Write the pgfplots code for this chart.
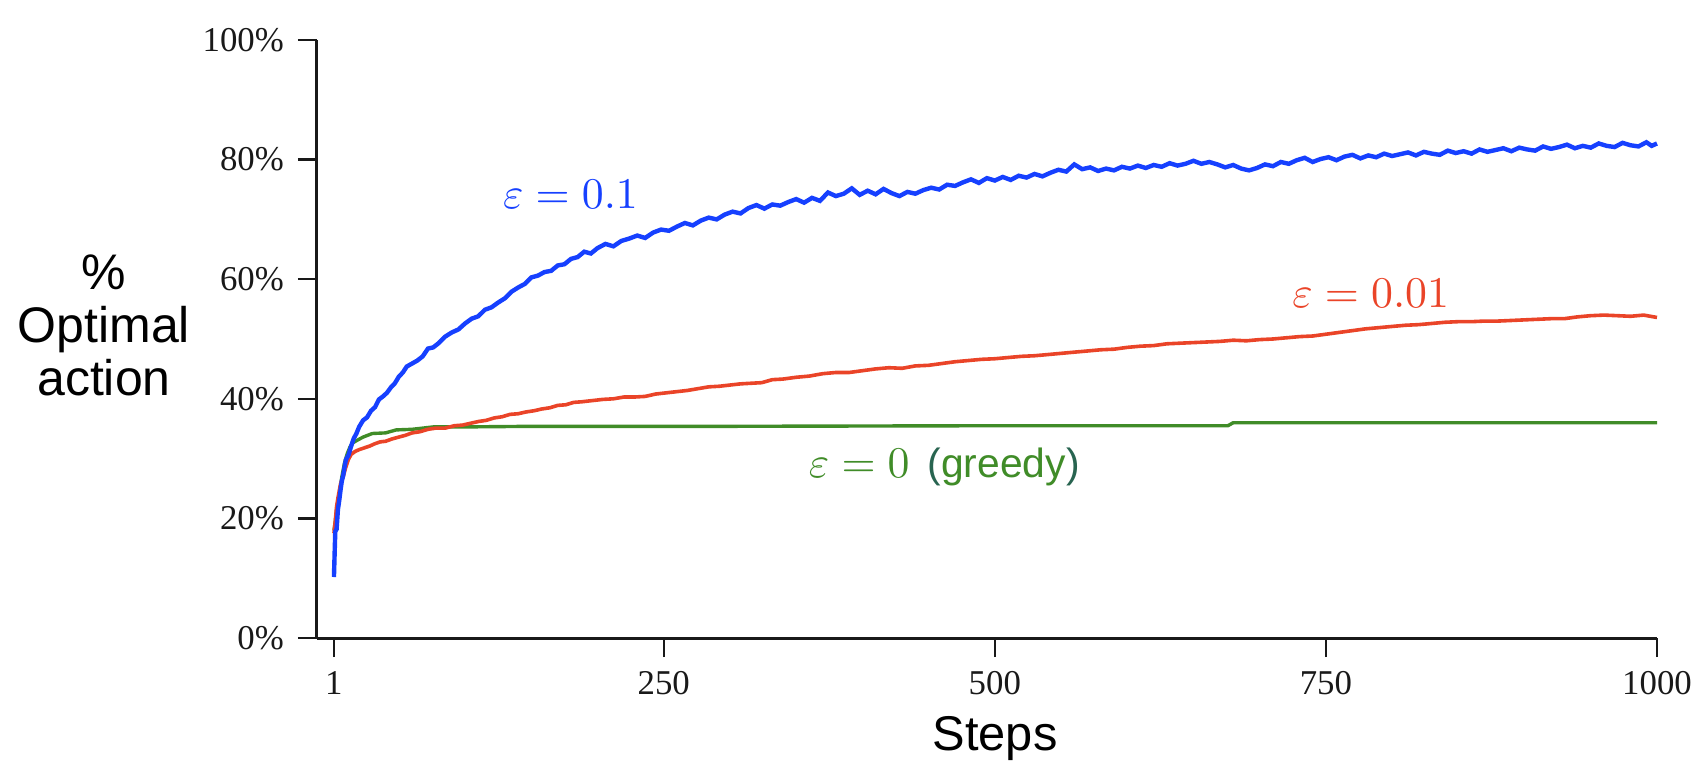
\documentclass[border=0pt]{standalone}
\usepackage[no-math]{fontspec}
\setmainfont{Liberation Serif}
\newfontfamily\hel{Liberation Sans}
\usepackage{pgfplots}
\pgfplotsset{compat=1.18}
\definecolor{cblue}{RGB}{22,64,255}
\definecolor{cred}{RGB}{234,68,40}
\definecolor{cgreen}{RGB}{64,140,40}
\definecolor{cteal}{RGB}{40,100,80}

\begin{document}
\begin{tikzpicture}
\useasboundingbox (0,0) rectangle (424pt,191pt);
\begin{axis}[
 at={(79.25pt,31.5pt)}, anchor=south west,
 scale only axis, width=335pt, height=149.5pt,
 xmin=-11.8, xmax=1000, ymin=0, ymax=100,
 axis x line*=bottom, axis y line*=left,
 axis line style={-, line width=0.75pt, black!90},
 tick align=outside, major tick length=4.75pt,
 tick style={line width=0.6pt, black!90},
 xtick={1,250,500,750,1000}, ytick={0,20,40,60,80,100},
 yticklabel={\pgfmathprintnumber{\tick}\%},
 /pgf/number format/assume math mode=true,
 /pgf/number format/set thousands separator={},
 tick label style={font=\fontsize{8.7}{10}\selectfont, text=black!90},
 every axis x label/.style={at={(axis description cs:0.506,-0.1873)}, anchor=base, font=\hel\fontsize{12.2}{14}\selectfont},
 every axis y label/.style={at={(axis description cs:-0.159,0.522)}, anchor=center, align=center, font=\hel\fontsize{12.5}{13.25}\selectfont},
 xlabel={Steps},
 ylabel={\%\\Optimal\\action},
 clip=false,
]
% greedy, epsilon = 0
\addplot[cgreen, line width=0.85pt] coordinates {
(1,18.0) (2,19.5) (3,21.5) (4,22.8) (5,23.6) (6,25.5) (7,27.0) (9,29.3) (11,30.8) (13,31.9)
(15,32.6) (18,33.0) (23,33.6) (30,34.2) (40,34.3) (48,34.8) (60,34.9) (76,35.3) (100,35.3)
(150,35.4) (300,35.4) (500,35.5) (676,35.5) (680,36.0) (1000,36.0)
};
% epsilon = 0.01
\addplot[cred, line width=0.9pt] coordinates {
(1,17.5) (2,19.5) (3,22.0) (4,23.4) (5,24.6) (6,25.8) (8,27.0) (10,28.6) (12,29.9) (14,30.7)
(17,31.2) (20,31.5) (24,31.8) (28,32.1) (32,32.5) (36,32.8) (40,32.9) (45,33.3) (50,33.6)
(55,33.9) (60,34.3) (66,34.5) (72,34.9) (78,35.1) (85,35.1) (92,35.5) (98,35.6) (104,35.9)
(110,36.2) (116,36.4) (122,36.8) (128,37.0) (134,37.4) (140,37.5) (146,37.8) (152,38.0)
(158,38.3) (164,38.5) (170,38.9) (176,39.0) (182,39.4) (188,39.5) (196,39.7) (204,39.9)
(212,40.0) (220,40.3) (228,40.3) (236,40.4) (244,40.8) (252,41.0) (260,41.2) (268,41.4)
(276,41.7) (284,42.0) (292,42.1) (300,42.3) (308,42.5) (316,42.6) (324,42.7) (332,43.2)
(340,43.3) (350,43.6) (360,43.8) (370,44.2) (380,44.4) (390,44.4) (400,44.7) (410,45.0)
(420,45.2) (430,45.1) (440,45.5) (450,45.6) (460,45.9) (470,46.2) (480,46.4) (490,46.6)
(500,46.7) (510,46.9) (520,47.1) (530,47.2) (540,47.4) (550,47.6) (560,47.8) (570,48.0)
(580,48.2) (590,48.3) (600,48.6) (610,48.8) (620,48.9) (630,49.2) (640,49.3) (650,49.4)
(660,49.5) (670,49.6) (680,49.8) (690,49.7) (700,49.9) (710,50.0) (720,50.2) (730,50.4)
(740,50.5) (750,50.8) (760,51.1) (770,51.4) (780,51.7) (790,51.9) (800,52.1) (810,52.3)
(820,52.4) (830,52.6) (840,52.8) (850,52.9) (860,52.9) (870,53.0) (880,53.0) (890,53.1)
(900,53.2) (910,53.3) (920,53.4) (930,53.4) (940,53.7) (950,53.9) (960,54.0) (970,53.9)
(980,53.8) (990,54.0) (1000,53.6)
};
% epsilon = 0.1
\addplot[cblue, line width=1.1pt] coordinates {
(1,10.2) (2,17.8) (3,18.2) (4,21.5) (5,23.0) (6,24.8) (7,26.3) (8,27.2) (9,28.6) (10,29.8)
(12,30.6) (14,32.1) (16,33.4) (18,34.2) (20,35.3) (23,36.4) (26,36.9) (29,38.0) (32,38.6)
(35,39.9) (38,40.4) (41,41.0) (44,41.9) (47,42.6) (50,43.7) (53,44.4) (56,45.4) (60,45.9)
(64,46.4) (68,47.1) (72,48.4) (76,48.6) (80,49.3) (85,50.4) (90,51.1) (95,51.6) (100,52.6)
(105,53.4) (110,53.8) (115,54.9) (120,55.3) (125,56.1) (130,56.8) (135,57.9) (140,58.6)
(145,59.2) (150,60.3) (155,60.6) (160,61.2) (165,61.4) (170,62.3) (175,62.5) (180,63.4)
(185,63.7) (190,64.6) (195,64.3) (200,65.2) (206,65.9) (212,65.5) (218,66.4) (224,66.8)
(230,67.3) (236,66.9) (242,67.8) (248,68.3) (254,68.1) (260,68.8) (266,69.4) (272,69.0)
(278,69.8) (284,70.3) (290,70.0) (296,70.8) (302,71.3) (308,71.0) (314,71.9) (320,72.4)
(326,71.8) (332,72.5) (338,72.3) (344,72.9) (350,73.4) (356,72.8) (362,73.6) (368,73.1)
(374,74.5) (380,73.9) (386,74.3) (392,75.2) (398,74.1) (404,74.8) (410,74.2) (416,75.1)
(422,74.4) (428,73.9) (434,74.6) (440,74.3) (446,74.9) (452,75.3) (458,75.0) (464,75.8)
(470,75.6) (476,76.2) (482,76.7) (488,76.1) (494,76.9) (500,76.5) (506,77.1) (512,76.6)
(518,77.3) (524,77.0) (530,77.6) (536,77.2) (542,77.8) (548,78.3) (554,78.0) (560,79.2)
(566,78.4) (572,78.7) (578,78.1) (584,78.5) (590,78.2) (596,78.8) (602,78.5) (608,79.0)
(614,78.6) (620,79.1) (626,78.8) (632,79.4) (638,79.0) (644,79.3) (650,79.8) (656,79.3)
(662,79.6) (668,79.2) (674,78.7) (680,79.1) (686,78.5) (692,78.2) (698,78.6) (704,79.2)
(710,78.9) (716,79.6) (722,79.3) (728,79.9) (734,80.3) (740,79.6) (746,80.1) (752,80.4)
(758,79.9) (764,80.5) (770,80.8) (776,80.2) (782,80.7) (788,80.4) (794,81.0) (800,80.6)
(806,80.9) (812,81.2) (818,80.7) (824,81.3) (830,81.0) (836,80.8) (842,81.5) (848,81.1)
(854,81.4) (860,81.0) (866,81.7) (872,81.3) (878,81.6) (884,81.9) (890,81.4) (896,82.0)
(902,81.7) (908,81.5) (914,82.2) (920,81.8) (926,82.1) (932,82.5) (938,81.9) (944,82.3)
(950,82.0) (956,82.7) (962,82.3) (968,82.1) (974,82.8) (980,82.4) (986,82.2) (992,82.9)
(996,82.3) (1000,82.7)
};
\node[anchor=base west, text=cblue, font=\fontsize{11}{13}\selectfont] at (axis cs:118,71.9) {$\varepsilon=0.1$};
\node[anchor=base west, text=cred, font=\fontsize{11}{13}\selectfont] at (axis cs:714,55.2) {$\varepsilon=0.01$};
\node[anchor=base west, text=cgreen, font=\fontsize{11}{13}\selectfont] at (axis cs:349,26.8) {$\varepsilon=0$\hspace{4.5pt}{\hel\fontsize{10.2}{12}\selectfont\textcolor{cteal}{(}greedy\textcolor{cteal}{)}}};
\end{axis}
\end{tikzpicture}
\end{document}
